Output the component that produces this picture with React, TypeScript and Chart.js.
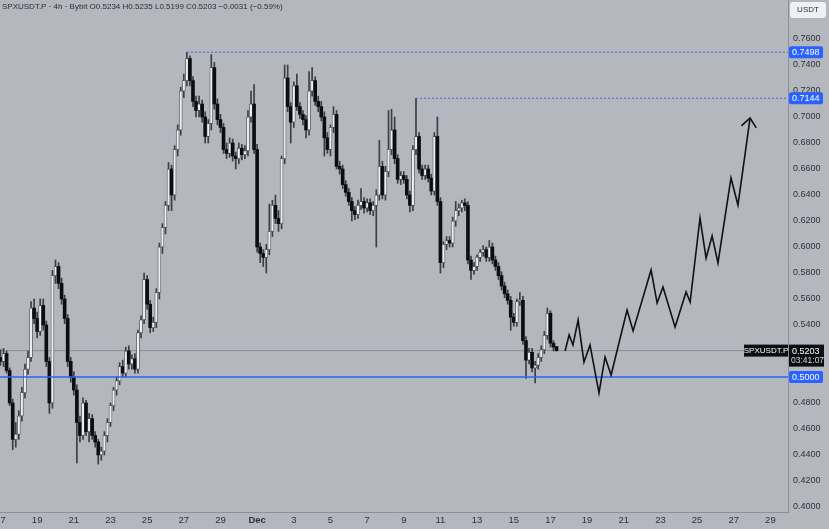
import React, { useEffect, useRef } from "react";
import { Chart, registerables } from "chart.js";

Chart.register(...registerables);

// ---- Data (4h candles, time measured in days from Nov 17 00:00) ----
const barsPerDay = 6;
const opens = [
  0.515, 0.512, 0.518, 0.505, 0.480, 0.452, 0.456, 0.470, 0.488, 0.506,
  0.515, 0.553, 0.545, 0.535, 0.555, 0.540, 0.512, 0.480, 0.578, 0.585,
  0.572, 0.560, 0.545, 0.512, 0.500, 0.490, 0.465, 0.455, 0.480, 0.458,
  0.468, 0.455, 0.450, 0.440, 0.443, 0.455, 0.465, 0.478, 0.490, 0.497,
  0.508, 0.503, 0.520, 0.510, 0.514, 0.506, 0.534, 0.544, 0.575, 0.556,
  0.538, 0.542, 0.565, 0.600, 0.615, 0.632, 0.660, 0.640, 0.675, 0.690,
  0.720, 0.728, 0.745, 0.728, 0.712, 0.705, 0.710, 0.700, 0.685, 0.695,
  0.738, 0.710, 0.698, 0.692, 0.675, 0.672, 0.680, 0.670, 0.668, 0.676,
  0.671, 0.674, 0.700, 0.710, 0.675, 0.600, 0.595, 0.592, 0.598, 0.612,
  0.632, 0.622, 0.618, 0.668, 0.730, 0.708, 0.696, 0.724, 0.708, 0.702,
  0.698, 0.690, 0.720, 0.728, 0.712, 0.708, 0.700, 0.684, 0.675, 0.692,
  0.702, 0.662, 0.660, 0.648, 0.642, 0.635, 0.628, 0.625, 0.632, 0.635,
  0.630, 0.634, 0.628, 0.632, 0.640, 0.662, 0.640, 0.658, 0.675, 0.690,
  0.668, 0.652, 0.655, 0.652, 0.640, 0.632, 0.675, 0.685, 0.660, 0.655,
  0.660, 0.653, 0.643, 0.685, 0.635, 0.588, 0.602, 0.605, 0.603, 0.620,
  0.628, 0.630, 0.634, 0.632, 0.590, 0.582, 0.585, 0.592, 0.596, 0.598,
  0.592, 0.600, 0.590, 0.585, 0.578, 0.570, 0.564, 0.559, 0.546, 0.542,
  0.558, 0.559, 0.528, 0.513, 0.519, 0.507, 0.509, 0.515, 0.521, 0.532,
  0.549, 0.526, 0.5234,
];
const highs = [
  0.521, 0.522, 0.520, 0.507, 0.483, 0.465, 0.474, 0.492, 0.510, 0.520,
  0.558, 0.560, 0.550, 0.560, 0.560, 0.543, 0.515, 0.582, 0.590, 0.588,
  0.576, 0.563, 0.548, 0.515, 0.504, 0.494, 0.470, 0.484, 0.482, 0.472,
  0.471, 0.458, 0.452, 0.446, 0.458, 0.468, 0.480, 0.492, 0.500, 0.511,
  0.513, 0.523, 0.524, 0.517, 0.518, 0.536, 0.547, 0.580, 0.578, 0.559,
  0.546, 0.568, 0.603, 0.618, 0.635, 0.665, 0.663, 0.678, 0.694, 0.723,
  0.733, 0.7498, 0.747, 0.731, 0.716, 0.716, 0.713, 0.704, 0.698, 0.748,
  0.742, 0.714, 0.702, 0.695, 0.680, 0.684, 0.683, 0.673, 0.680, 0.679,
  0.678, 0.705, 0.720, 0.725, 0.679, 0.603, 0.598, 0.602, 0.633, 0.636,
  0.640, 0.628, 0.670, 0.740, 0.740, 0.711, 0.727, 0.733, 0.711, 0.705,
  0.701, 0.735, 0.738, 0.731, 0.716, 0.712, 0.704, 0.688, 0.694, 0.708,
  0.705, 0.666, 0.663, 0.651, 0.645, 0.638, 0.631, 0.636, 0.645, 0.638,
  0.637, 0.637, 0.635, 0.644, 0.682, 0.666, 0.662, 0.705, 0.706, 0.700,
  0.671, 0.658, 0.658, 0.655, 0.643, 0.678, 0.7144, 0.688, 0.663, 0.663,
  0.663, 0.656, 0.688, 0.700, 0.638, 0.604, 0.608, 0.608, 0.623, 0.635,
  0.633, 0.636, 0.637, 0.635, 0.593, 0.588, 0.594, 0.598, 0.601, 0.600,
  0.605, 0.603, 0.593, 0.588, 0.581, 0.573, 0.567, 0.562, 0.549, 0.560,
  0.565, 0.562, 0.531, 0.522, 0.522, 0.512, 0.518, 0.524, 0.535, 0.553,
  0.551, 0.528, 0.5235,
];
const lows = [
  0.509, 0.508, 0.503, 0.478, 0.444, 0.446, 0.452, 0.466, 0.484, 0.502,
  0.512, 0.541, 0.530, 0.532, 0.536, 0.508, 0.472, 0.476, 0.572, 0.568,
  0.556, 0.541, 0.508, 0.496, 0.486, 0.434, 0.450, 0.452, 0.455, 0.450,
  0.452, 0.446, 0.433, 0.436, 0.440, 0.450, 0.462, 0.474, 0.486, 0.494,
  0.500, 0.500, 0.506, 0.506, 0.503, 0.503, 0.530, 0.541, 0.552, 0.534,
  0.535, 0.538, 0.560, 0.595, 0.610, 0.628, 0.628, 0.636, 0.670, 0.686,
  0.715, 0.724, 0.724, 0.708, 0.700, 0.700, 0.696, 0.680, 0.680, 0.690,
  0.706, 0.694, 0.688, 0.672, 0.668, 0.669, 0.666, 0.660, 0.664, 0.667,
  0.668, 0.670, 0.696, 0.672, 0.596, 0.588, 0.585, 0.580, 0.594, 0.608,
  0.618, 0.612, 0.614, 0.664, 0.704, 0.680, 0.692, 0.705, 0.699, 0.694,
  0.684, 0.686, 0.716, 0.709, 0.704, 0.697, 0.670, 0.672, 0.670, 0.688,
  0.660, 0.656, 0.645, 0.639, 0.632, 0.620, 0.621, 0.622, 0.629, 0.626,
  0.627, 0.625, 0.624, 0.600, 0.636, 0.637, 0.636, 0.654, 0.671, 0.664,
  0.649, 0.648, 0.649, 0.637, 0.627, 0.628, 0.671, 0.657, 0.652, 0.652,
  0.650, 0.640, 0.640, 0.632, 0.580, 0.584, 0.598, 0.600, 0.600, 0.616,
  0.624, 0.627, 0.628, 0.587, 0.575, 0.579, 0.582, 0.589, 0.593, 0.589,
  0.589, 0.587, 0.582, 0.575, 0.567, 0.561, 0.556, 0.536, 0.539, 0.539,
  0.555, 0.525, 0.499, 0.510, 0.504, 0.4955, 0.506, 0.512, 0.518, 0.529,
  0.523, 0.520, 0.5199,
];
const closes = [
  0.512, 0.518, 0.505, 0.480, 0.452, 0.456, 0.470, 0.488, 0.506, 0.515,
  0.553, 0.545, 0.535, 0.555, 0.540, 0.512, 0.480, 0.578, 0.585, 0.572,
  0.560, 0.545, 0.512, 0.500, 0.490, 0.465, 0.455, 0.480, 0.458, 0.468,
  0.455, 0.450, 0.440, 0.443, 0.455, 0.465, 0.478, 0.490, 0.497, 0.508,
  0.503, 0.520, 0.510, 0.514, 0.506, 0.534, 0.544, 0.575, 0.556, 0.538,
  0.542, 0.565, 0.600, 0.615, 0.632, 0.660, 0.640, 0.675, 0.690, 0.720,
  0.728, 0.745, 0.728, 0.712, 0.705, 0.710, 0.700, 0.685, 0.695, 0.738,
  0.710, 0.698, 0.692, 0.675, 0.672, 0.680, 0.670, 0.668, 0.676, 0.671,
  0.674, 0.700, 0.710, 0.675, 0.600, 0.595, 0.592, 0.598, 0.612, 0.632,
  0.622, 0.618, 0.668, 0.730, 0.708, 0.696, 0.724, 0.708, 0.702, 0.698,
  0.690, 0.720, 0.728, 0.712, 0.708, 0.700, 0.684, 0.675, 0.692, 0.702,
  0.662, 0.660, 0.648, 0.642, 0.635, 0.628, 0.625, 0.632, 0.635, 0.630,
  0.634, 0.628, 0.632, 0.640, 0.662, 0.640, 0.658, 0.675, 0.690, 0.668,
  0.652, 0.655, 0.652, 0.640, 0.632, 0.675, 0.685, 0.660, 0.655, 0.660,
  0.653, 0.643, 0.685, 0.635, 0.588, 0.602, 0.605, 0.603, 0.620, 0.628,
  0.630, 0.634, 0.632, 0.590, 0.582, 0.585, 0.592, 0.596, 0.598, 0.592,
  0.600, 0.590, 0.585, 0.578, 0.570, 0.564, 0.559, 0.546, 0.542, 0.558,
  0.559, 0.528, 0.513, 0.519, 0.507, 0.509, 0.515, 0.521, 0.532, 0.549,
  0.526, 0.523, 0.5203,
];

// Hand-drawn projection path (days from Nov 17, price)
const projDays = [
  30.8, 31.02, 31.23, 31.51, 31.83, 32.16, 32.65, 32.98, 33.31, 34.18, 34.51,
  35.49, 35.82, 36.14, 36.8, 37.4, 37.62, 38.16, 38.49, 38.82, 39.14, 39.85,
  40.23, 40.89,
];
const projPrices = [
  0.52, 0.5323, 0.5246, 0.5438, 0.5115, 0.5246, 0.4877, 0.5154, 0.5015, 0.5515,
  0.5354, 0.5823, 0.5569, 0.5692, 0.5385, 0.5654, 0.5577, 0.6223, 0.5915,
  0.6085, 0.5877, 0.6531, 0.6323, 0.6992,
];

// Levels
const highLevel = 0.7498;
const highLevelStartBar = 61;
const midLevel = 0.7144;
const midLevelStartBar = 136;
const supportLevel = 0.5;
const lastPrice = 0.5203;
const lastPriceLabel = "0.5203";
const countdownLabel = "03:41:07";
const symbolLabel = "SPXUSDT.P";
const headerText =
  "SPXUSDT.P · 4h · Bybit O0.5234 H0.5235 L0.5199 C0.5203 \u22120.0031 (\u22120.59%)";
const currencyLabel = "USDT";

// Axes
const xTickDays = [0, 2, 4, 6, 8, 10, 12, 14, 16, 18, 20, 22, 24, 26, 28, 30, 32, 34, 36, 38, 40, 42];
const xTickLabels = [
  "17", "19", "21", "23", "25", "27", "29", "Dec", "3", "5", "7", "9",
  "11", "13", "15", "17", "19", "21", "23", "25", "27", "29",
];
const yTickValues = [
  0.4, 0.42, 0.44, 0.46, 0.48, 0.5, 0.52, 0.54, 0.56, 0.58, 0.6, 0.62, 0.64,
  0.66, 0.68, 0.7, 0.72, 0.74, 0.76,
];
const xMin = -0.027;
const xMax = 42.96;
const yMin = 0.39615;
const yMax = 0.79;

const W = 829;
const H = 529;
const BG = "#b4b7be";
const FONT = "'Liberation Sans', Arial, sans-serif";

const zeroPadding = (scale: any) => {
  scale.paddingLeft = 0;
  scale.paddingRight = 0;
  scale.paddingTop = 0;
  scale.paddingBottom = 0;
};

export default function App() {
  const ref = useRef<HTMLCanvasElement>(null);

  useEffect(() => {
    document.body.style.margin = "0";
    const canvas = ref.current!;
    const isBull = (i: number) => closes[i] >= opens[i];
    const dayOf = (i: number) => i / barsPerDay;

    const overlay = {
      id: "overlay",
      beforeDraw(chart: any) {
        const c = chart.ctx;
        c.save();
        c.fillStyle = BG;
        c.fillRect(0, 0, chart.width, chart.height);
        c.restore();
      },
      afterDraw(chart: any) {
        const c = chart.ctx;
        const ys = chart.scales.y;
        const right = chart.chartArea.right;
        c.save();
        // header
        c.font = `8px ${FONT}`;
        c.fillStyle = "#2b2e36";
        c.textBaseline = "middle";
        c.textAlign = "left";
        c.fillText(headerText, 2, 7);

        // currency box
        c.fillStyle = "#eef0f3";
        c.beginPath();
        (c as any).roundRect(right + 2, 2, 36, 16, 3);
        c.fill();
        c.fillStyle = "#2b2e36";
        c.font = `8px ${FONT}`;
        c.textAlign = "center";
        c.fillText(currencyLabel, right + 20, 10);

        const box = (val: number, text: string, color: string) => {
          const py = ys.getPixelForValue(val);
          c.fillStyle = color;
          c.beginPath();
          (c as any).roundRect(right + 1, py - 6, 34, 12, 2);
          c.fill();
          c.fillStyle = "#ffffff";
          c.font = `9px ${FONT}`;
          c.textAlign = "left";
          c.fillText(text, right + 4, py + 0.5);
        };
        box(highLevel, highLevel.toFixed(4), "#2962ff");
        box(midLevel, midLevel.toFixed(4), "#2962ff");
        box(supportLevel, supportLevel.toFixed(4), "#2962ff");

        // last price
        const lp = ys.getPixelForValue(lastPrice);
        c.fillStyle = "#0c0d10";
        c.fillRect(right + 1, lp - 6, 35, 22);
        c.fillRect(right - 44, lp - 6, 44, 12);
        c.fillStyle = "#ffffff";
        c.font = `9px ${FONT}`;
        c.textAlign = "left";
        c.fillText(lastPriceLabel, right + 4, lp + 0.5);
        c.font = `8.5px ${FONT}`;
        c.fillStyle = "#d8d9dc";
        c.fillText(countdownLabel, right + 3, lp + 10);
        c.fillStyle = "#ffffff";
        c.font = `8px ${FONT}`;
        c.textAlign = "center";
        c.fillText(symbolLabel, right - 22, lp + 0.5);

        // arrow head on projection
        const meta = chart.getDatasetMeta(6);
        const pts = meta.data;
        const a = pts[pts.length - 2];
        const b = pts[pts.length - 1];
        const ang = Math.atan2(b.y - a.y, b.x - a.x);
        const len = 11;
        c.strokeStyle = "#111214";
        c.lineWidth = 1.6;
        c.lineCap = "round";
        c.beginPath();
        c.moveTo(b.x - len * Math.cos(ang - 0.7), b.y - len * Math.sin(ang - 0.7));
        c.lineTo(b.x, b.y);
        c.lineTo(b.x - len * Math.cos(ang + 0.7), b.y - len * Math.sin(ang + 0.7));
        c.stroke();
        c.restore();
      },
    };

    const chart = new Chart(canvas, {
      type: "bar",
      data: {
        datasets: [
          {
            type: "bar",
            data: lows.map((l, i) => ({ x: dayOf(i), y: [l, highs[i]] })) as any,
            backgroundColor: "#3b3e45",
            barThickness: 1,
            grouped: false,
            order: 6,
          } as any,
          {
            type: "bar",
            data: opens.map((o, i) => ({ x: dayOf(i), y: [o, closes[i]] })) as any,
            backgroundColor: (ctx: any) => (isBull(ctx.dataIndex) ? "#eceef1" : "#0d0e11"),
            borderColor: (ctx: any) => (isBull(ctx.dataIndex) ? "#52555c" : "#0d0e11"),
            borderWidth: (ctx: any) => (isBull(ctx.dataIndex) ? 0.8 : 0),
            borderSkipped: false,
            barThickness: 3,
            minBarLength: 1,
            grouped: false,
            order: 5,
          } as any,
          {
            type: "line",
            data: [
              { x: xMin, y: lastPrice },
              { x: xMax, y: lastPrice },
            ],
            borderColor: "#8b8e95",
            borderWidth: 1,
            pointRadius: 0,
            order: 7,
          } as any,
          {
            type: "line",
            data: [
              { x: xMin, y: supportLevel },
              { x: xMax, y: supportLevel },
            ],
            borderColor: "#2962ff",
            borderWidth: 1.5,
            pointRadius: 0,
            order: 4,
          } as any,
          {
            type: "line",
            data: [
              { x: dayOf(highLevelStartBar), y: highLevel },
              { x: xMax, y: highLevel },
            ],
            borderColor: "#4f63d8",
            borderWidth: 1,
            borderDash: [2, 2],
            pointRadius: 0,
            order: 3,
          } as any,
          {
            type: "line",
            data: [
              { x: dayOf(midLevelStartBar), y: midLevel },
              { x: xMax, y: midLevel },
            ],
            borderColor: "#4f63d8",
            borderWidth: 1,
            borderDash: [2, 2],
            pointRadius: 0,
            order: 2,
          } as any,
          {
            type: "line",
            data: projDays.map((d, i) => ({ x: d, y: projPrices[i] })),
            borderColor: "#111214",
            borderWidth: 1.6,
            pointRadius: 0,
            tension: 0,
            order: 1,
          } as any,
        ],
      },
      options: {
        responsive: false,
        animation: false,
        devicePixelRatio: 1,
        layout: { padding: 0, autoPadding: false },
        plugins: {
          legend: { display: false },
          tooltip: { enabled: false },
        },
        scales: {
          x: {
            type: "linear",
            min: xMin,
            max: xMax,
            offset: false,
            position: "bottom",
            grid: { display: false, drawTicks: false },
            border: { display: true, color: "#8d9098", width: 1 },
            afterBuildTicks: (scale: any) => {
              scale.ticks = xTickDays.map((v) => ({ value: v }));
            },
            afterFit: (scale: any) => {
              scale.height = 17;
              zeroPadding(scale);
            },
            ticks: {
              autoSkip: false,
              maxRotation: 0,
              padding: 3,
              color: "#30333b",
              font: (ctx: any) => ({
                size: 9.5,
                family: FONT,
                weight: ctx.index === 7 ? "bold" : "normal",
              }),
              callback: (_v: any, idx: number) => xTickLabels[idx],
            },
          },
          y: {
            type: "linear",
            position: "right",
            min: yMin,
            max: yMax,
            grid: { display: false, drawTicks: false },
            border: { display: true, color: "#8d9098", width: 1 },
            afterBuildTicks: (scale: any) => {
              scale.ticks = yTickValues.map((v) => ({ value: v }));
            },
            afterFit: (scale: any) => {
              scale.width = 41;
              zeroPadding(scale);
            },
            ticks: {
              padding: 5,
              color: "#30333b",
              font: { size: 9, family: FONT },
              callback: (v: any) => Number(v).toFixed(4),
            },
          },
        },
      } as any,
      plugins: [overlay],
    });
    return () => chart.destroy();
  }, []);

  return (
    <canvas
      ref={ref}
      width={W}
      height={H}
      style={{ display: "block", width: W, height: H }}
    />
  );
}
